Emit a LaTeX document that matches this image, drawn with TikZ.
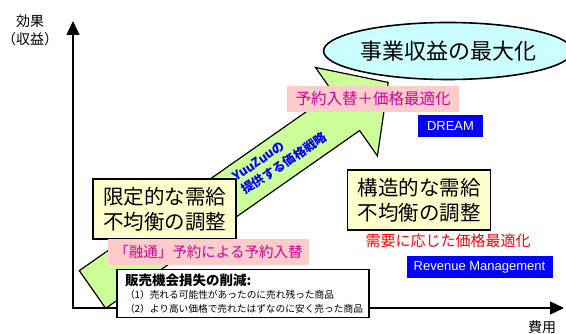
\documentclass[tikz,border=0pt]{standalone}
\usepackage{fontspec}
\setmainfont{Noto Sans CJK JP}
\newfontfamily\latinsans{Liberation Sans}
\usetikzlibrary{positioning, arrows.meta, shapes, shapes.geometric}

\definecolor{skyfill}{HTML}{CCFFFF}
\definecolor{leaf}{HTML}{CCFF99}
\definecolor{cream}{HTML}{FFFFCC}
\definecolor{blush}{HTML}{FFCCCC}
\definecolor{plum}{HTML}{D4009A}

\tikzset{
  balance/.style={draw, line width=1.6pt, fill=cream, minimum width=143pt, minimum height=60pt,
    inner sep=0pt, align=center, font=\fontsize{20.5}{25}\selectfont},
  tag/.style={fill=blush, text=plum, inner sep=0pt, minimum height=26pt},
  brand/.style={fill=blue, text=white, inner sep=0pt, minimum height=22pt,
    font=\latinsans\fontsize{13}{15}\selectfont},
}

\begin{document}
\begin{tikzpicture}[x=1pt, y=-1pt]
\useasboundingbox (0,0) rectangle (566,334);
\coordinate (ytop) at (73,21);
\coordinate (origin) at (73,308);
\coordinate (xend) at (564,308);
\draw[line width=1.5pt, {Triangle[width=13pt,length=14pt]}-{Triangle[width=13pt,length=14pt]}] (ytop) -- (origin) -- (xend);
\node[align=center, font=\fontsize{14}{18}\selectfont] (effect) at (30,30) {効果\\（収益）};
\node[font=\fontsize{14}{16}\selectfont] (cost) at (542,327) {費用};

\begin{scope}[shift={(92.5,289.5)}, rotate=35]
\draw[line width=1.2pt, fill=leaf] (0,-23) -- (310,-23) -- (310,-54) -- (361,0) -- (310,54) -- (310,23) -- (0,23) -- cycle;
\end{scope}

\node[ellipse, draw, line width=1.6pt, fill=skyfill, minimum width=219pt, minimum height=57pt, inner sep=0pt,
  font=\fontsize{22}{24}\selectfont] (goal) at (448,51) {事業収益の最大化};
\node[rotate=34, align=left, text=blue, font=\bfseries\fontsize{12.5}{16}\selectfont] (strategy) at (280,157) {YuuZuuの\\提供する価格戦略};
\node[tag, minimum width=172pt, font=\fontsize{15.5}{17}\selectfont] (swapprice) at (373,99) {予約入替＋価格最適化};
\node[brand, minimum width=65pt] (dream) at (450.5,126.5) {DREAM};
\node[balance] (limited) at (164.5,209) {限定的な需給\\不均衡の調整};
\node[tag, minimum width=201pt, font=\fontsize{14.5}{17}\selectfont] (swap) at (208.5,252) {「融通」予約による予約入替};
\node[draw, line width=1.6pt, fill=white, minimum height=48pt, text width=236pt, inner xsep=8pt, inner ysep=2pt,
  align=left, font=\fontsize{9.7}{13.5}\selectfont] (loss) at (243,293.5)
  {{\bfseries\fontsize{13.5}{14}\selectfont 販売機会損失の削減:}\\（1）売れる可能性があったのに売れ残った商品\\（2）より高い価格で売れたはずなのに安く売った商品};
\node[balance] (structural) at (419,200) {構造的な需給\\不均衡の調整};
\node[text=red, font=\fontsize{15}{17}\selectfont] (demand) at (448,241) {需要に応じた価格最適化};
\node[brand, minimum width=146pt] (revenue) at (479.5,267) {Revenue Management};
\end{tikzpicture}
\end{document}
